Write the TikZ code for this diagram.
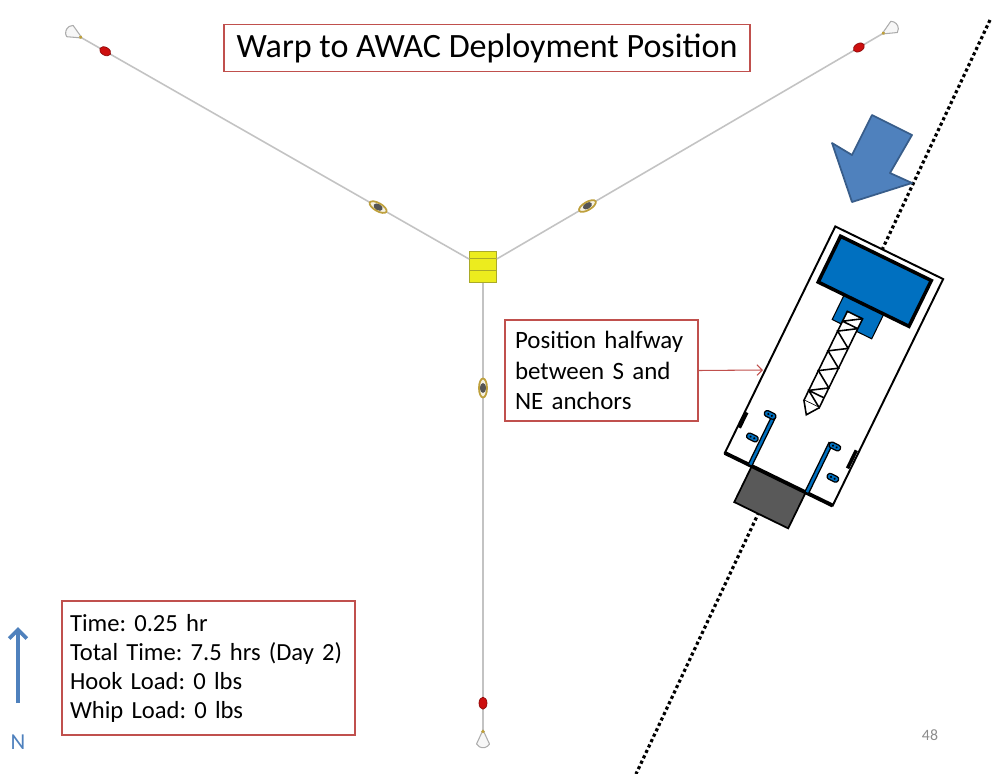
\documentclass[tikz,border=0pt]{standalone}
\usepackage{fontspec}
\setmainfont{Carlito}
\usetikzlibrary{arrows.meta,shapes.geometric}
\frenchspacing

\definecolor{boxred}{RGB}{192,80,77}
\definecolor{arrowblue}{RGB}{79,129,189}
\definecolor{arrowedge}{RGB}{56,93,138}
\definecolor{deckblue}{RGB}{0,112,192}
\definecolor{sterngrey}{RGB}{89,89,89}
\definecolor{linegrey}{RGB}{195,195,195}
\definecolor{buoyyellow}{RGB}{236,236,30}
\definecolor{buoyedge}{RGB}{170,170,40}
\definecolor{shackgold}{RGB}{190,160,60}
\definecolor{shackdark}{RGB}{85,85,85}
\definecolor{floatred}{RGB}{205,15,15}
\definecolor{pagegrey}{RGB}{140,140,140}

\begin{document}
\begin{tikzpicture}[x=0.02cm,y=0.02cm,
    redbox/.style={draw=boxred, line width=0.7pt, fill=white},
    mooring/.style={draw=linegrey, line width=0.9pt},
    buoy/.style={rectangle, draw=buoyedge, fill=buoyyellow, line width=0.5pt,
      minimum width=0.54cm, minimum height=0.62cm, inner sep=0pt,
      path picture={
        \draw[buoyedge, line width=0.6pt]
          ([yshift=-0.14cm]path picture bounding box.north west) -- ([yshift=-0.14cm]path picture bounding box.north east)
          ([yshift=0.24cm]path picture bounding box.south west) -- ([yshift=0.24cm]path picture bounding box.south east);}},
    shackle/.style={ellipse, draw=shackgold, fill=white!85!shackgold, line width=1pt,
      minimum width=0.38cm, minimum height=0.16cm, inner sep=0pt, sloped, allow upside down,
      path picture={\fill[shackdark] (path picture bounding box.center) ellipse (2.8pt and 1.8pt);}},
    float/.style={ellipse, draw=floatred!70!black, fill=floatred, line width=0.4pt,
      minimum width=0.24cm, minimum height=0.16cm, inner sep=0pt, sloped, allow upside down},
    cone/.style={draw=gray!65, fill=gray!6, line width=0.6pt, line join=round},
    pointer/.style={draw=boxred, line width=0.6pt, -{Straight Barb[length=3pt,width=6pt]}},
    northarrow/.style={draw=arrowblue, line width=2.2pt, -{Straight Barb[length=5pt,width=10pt]}},
    dotline/.style={line width=1.8pt, dash pattern=on 1.8pt off 1.6pt},
    bigarrow/.style={fill=arrowblue, draw=arrowedge, line width=1pt, line join=round}]
\useasboundingbox (0,0) rectangle (995,-774);

% survey line
\draw[dotline] (990,-20) -- (636,-774);

% three leg mooring
\node[buoy] (buoy) at (483,-267) {};
\coordinate (end-nw) at (82,-38);
\coordinate (end-ne) at (882,-34);
\coordinate (end-s) at (483,-730);
\foreach \arm/\ang in {nw/150.2,ne/30.4,s/-90} {
  \draw[mooring] (buoy) -- (end-\arm)
    node[shackle,pos=0.235] (shk-\arm) {}
    node[float,pos=0.94] (flt-\arm) {};
  % anchor cone
  \begin{scope}[shift={(end-\arm)},rotate=\ang]
    \draw[cone] (0,0) -- (14,6.5) arc (60:-60:7.5) -- cycle;
    \fill[shackgold] (1.5,0) circle (1.8);
  \end{scope}
}

% heading arrow
\draw[bigarrow] (872,-115) -- (912,-135) -- (890,-173) -- (912,-183) -- (852,-202)
  -- (832,-143) -- (852,-155) -- cycle;

% vessel
\begin{scope}[shift={(834,-366)},rotate=-26]
  % hull
  \draw[line width=1.1pt, fill=white] (-60,-126) rectangle (60,126);
  \draw[line width=2pt] (-58,-97) -- (-58,-80);
  \draw[line width=2pt] (57,-86) -- (57,-66);
  % stern box
  \draw[fill=sterngrey, line width=1pt] (-30,-166) rectangle (30,-126);
  \draw[line width=2.2pt] (-60,-126) -- (60,-126);
  % rails and cleats
  \draw[fill=deckblue, line width=0.7pt] (-34,-126) rectangle (-30,-72);
  \draw[fill=deckblue, line width=0.7pt] (29,-126) rectangle (33,-71);
  \foreach \ua/\va in {-42/-75, 30/-75, -48/-103, 42/-104} {
    \draw[fill=deckblue, line width=0.7pt, rounded corners=1.5pt] (\ua,\va) rectangle ++(12,6);
    \fill (\ua+4,\va+3) circle (1.2) (\ua+8,\va+3) circle (1.2);
  }
  % housing
  \draw[fill=deckblue, line width=0.6pt] (-22,41) rectangle (22,70);
  \draw[fill=deckblue, line width=2pt] (-51,68.5) rectangle (50,119.5);
  % boom
  \draw[fill=white, line width=0.9pt] (-12,-44) rectangle (5,55);
  \draw[line width=0.9pt] (-12,44) -- (5,44) (-12,44) -- (5,55);
  \draw[line width=0.9pt] (5,44) -- (-12,33) -- (5,22) -- (-12,11) -- (5,0) -- (-12,-11)
    -- (5,-22) -- (-12,-33) -- (5,-44) (-12,-33) -- (5,-33);
  \draw[fill=white, line width=0.9pt] (-12,-44) -- (-3.5,-56) -- (5,-44);
\end{scope}

% labels
\node[redbox, minimum width=10.52cm, minimum height=0.94cm,
  font=\fontsize{19.4}{23}\selectfont] (title) at (487,-48) {Warp to AWAC Deployment Position};

\node[redbox, text width=3.46cm, inner xsep=0.2cm, minimum height=2.02cm, align=left,
  font=\fontsize{14.2}{17.6}\selectfont] (callout) at (601.5,-370.5)
  {Position halfway\\between S and\\NE anchors};
\coordinate (hull-port) at (763,-370);
\draw[pointer] (callout.east) -- (hull-port);

\node[redbox, text width=5.54cm, inner xsep=0.16cm, minimum height=2.68cm, align=left,
  font=\fontsize{14}{16.5}\selectfont] (info) at (208.5,-668)
  {Time: 0.25 hr\\Total Time: 7.5 hrs (Day 2)\\Hook Load: 0 lbs\\Whip Load: 0 lbs};

% north marker
\node[text=arrowblue, font=\fontsize{13}{15}\selectfont] (north) at (18,-742) {N};
\coordinate (n-tail) at (18,-703);
\coordinate (n-tip) at (18,-627);
\draw[northarrow] (n-tail) -- (n-tip);

\node[text=pagegrey, font=\fontsize{9}{11}\selectfont] (page) at (930,-735) {48};
\end{tikzpicture}
\end{document}
